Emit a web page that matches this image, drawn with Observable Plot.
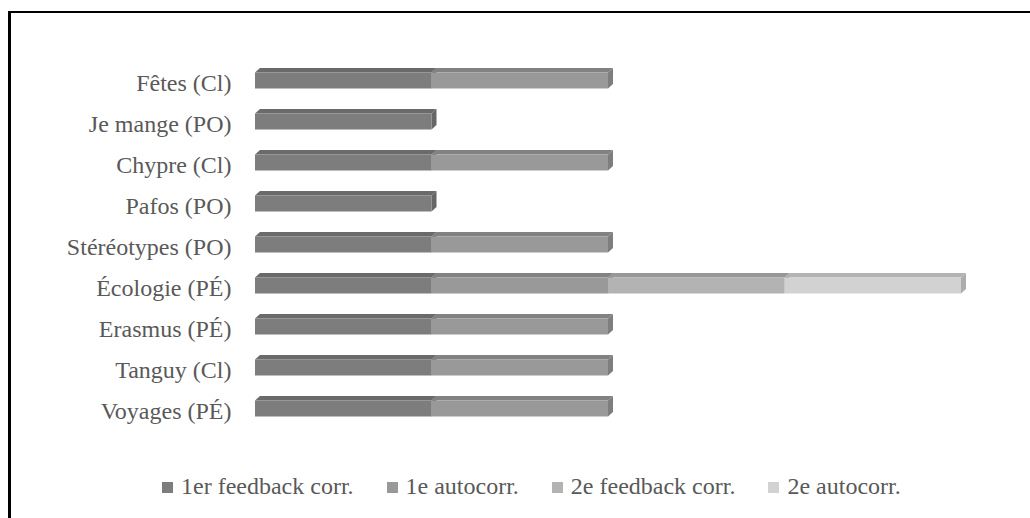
<!DOCTYPE html>
<html>
<head>
<meta charset="utf-8">
<script src="https://cdn.jsdelivr.net/npm/d3@7"></script>
<script src="https://cdn.jsdelivr.net/npm/@observablehq/plot@0.6"></script>
<style>
  html, body { margin: 0; padding: 0; background: #fff; width: 1030px; height: 518px; overflow: hidden; }
  #frame { position: absolute; left: 8px; top: 11px; width: 1200px; height: 700px;
           border-left: 3px solid #000; border-top: 2px solid #000; box-sizing: border-box; }
  #chart { position: absolute; left: 0; top: 0; }
  #legend { position: absolute; left: 162px; top: 473px; display: flex; align-items: center;
            font-family: "Liberation Serif", Tinos, "Times New Roman", Times, "DejaVu Serif", serif; font-size: 24px; color: #595959; white-space: nowrap; }
  .item { display: flex; align-items: center; margin-right: 33px; }
  .sw { width: 11px; height: 11px; margin-right: 8px; margin-top: 1px; }
</style>
</head>
<body>
<div id="frame"></div>
<div id="chart"></div>
<div id="legend"></div>
<script>
const categories = ["Fêtes (Cl)", "Je mange (PO)", "Chypre (Cl)", "Pafos (PO)", "Stéréotypes (PO)", "Écologie (PÉ)", "Erasmus (PÉ)", "Tanguy (Cl)", "Voyages (PÉ)"];
const seriesNames = ["1er feedback corr.", "1e autocorr.", "2e feedback corr.", "2e autocorr."];
const seriesColors = ["#7d7d7d", "#999999", "#b3b3b3", "#d2d2d2"];
const feedback1 = [1, 1, 1, 1, 1, 1, 1, 1, 1];
const autocorr1 = [1, 0, 1, 0, 1, 1, 1, 1, 1];
const feedback2 = [0, 0, 0, 0, 0, 1, 0, 0, 0];
const autocorr2 = [0, 0, 0, 0, 0, 1, 0, 0, 0];
const seriesValues = [feedback1, autocorr1, feedback2, autocorr2];

const FONT = "'Liberation Serif', Tinos, 'Times New Roman', Times, 'DejaVu Serif', serif";

const rows = [];
categories.forEach((cat, ci) => {
  seriesNames.forEach((s, si) => {
    rows.push({cat, series: s, value: seriesValues[si][ci]});
  });
});

const DX = 5, DY = 4.5;

function render3d(index, scales, values, dimensions, context) {
  const g = d3.create("svg:g");
  const bw = scales.y.bandwidth ? scales.y.bandwidth() : (scales.y.bandwidth || 0);
  const bwv = typeof bw === "number" ? bw : 0;
  for (const i of index) {
    const x1 = Math.min(values.x1[i], values.x2[i]);
    const x2 = Math.max(values.x1[i], values.x2[i]);
    if (x2 - x1 < 0.5) continue;
    const yc = values.y[i] + bwv / 2;
    const top = yc - 11, bot = yc + 5;
    const c = values.fill[i];
    const ct = d3.color(c).darker(0.45).formatHex();
    const cs = d3.color(c).darker(0.55).formatHex();
    g.append("path").attr("fill", cs)
      .attr("d", `M${x2},${top}L${x2 + DX},${top - DY}L${x2 + DX},${bot - DY}L${x2},${bot}Z`);
    g.append("path").attr("fill", ct)
      .attr("d", `M${x1},${top}L${x1 + DX},${top - DY}L${x2 + DX},${top - DY}L${x2},${top}Z`);
    g.append("rect").attr("fill", c)
      .attr("x", x1).attr("y", top).attr("width", x2 - x1).attr("height", bot - top);
  }
  return g.node();
}

const chart = Plot.plot({
  width: 1030,
  height: 450,
  marginLeft: 255,
  marginRight: 69,
  marginTop: 61.3,
  marginBottom: 16.1,
  style: {fontFamily: FONT, fontSize: "24px", color: "#595959", background: "transparent"},
  x: {domain: [0, 4], axis: null},
  y: {domain: categories, padding: 0, label: null},
  color: {domain: seriesNames, range: seriesColors},
  marks: [
    Plot.barX(rows, Plot.stackX({
      x: "value", y: "cat", fill: "series",
      filter: d => d.value > 0,
      render: render3d
    })),
    Plot.axisY({tickSize: 0, tickPadding: 24, label: null, fontSize: 24, fontFamily: FONT, dy: -1})
  ]
});
document.getElementById("chart").appendChild(chart);

const legend = document.getElementById("legend");
seriesNames.forEach((s, i) => {
  const item = document.createElement("div");
  item.className = "item";
  const sw = document.createElement("div");
  sw.className = "sw";
  sw.style.background = seriesColors[i];
  const t = document.createElement("span");
  t.textContent = s;
  item.appendChild(sw);
  item.appendChild(t);
  legend.appendChild(item);
});
</script>
</body>
</html>
